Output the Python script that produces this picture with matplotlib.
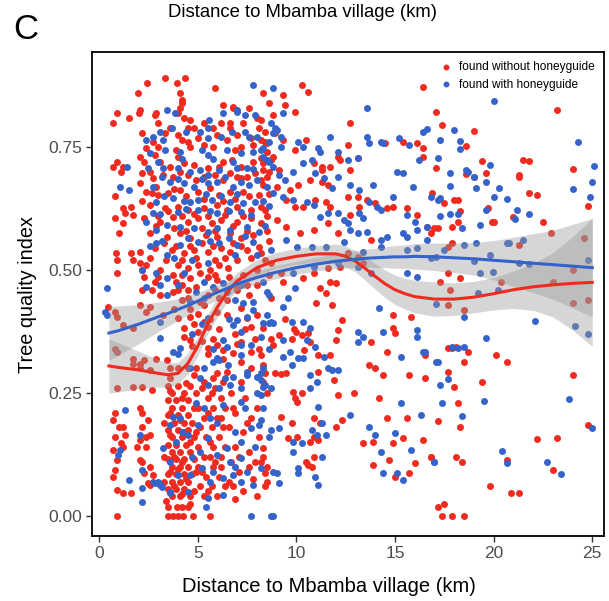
import matplotlib
matplotlib.use("Agg")
import matplotlib.pyplot as plt
import numpy as np

plt.rcParams["font.family"] = ["Liberation Sans", "DejaVu Sans"]

# trees found without honeyguide (distance km, tree quality index)
red_pts = [
    # sparse top-left
    (3.35, .89), (2.44, .88), (1.98, .86), (3.96, .88), (4.37, .89), (4.1, .86), (4.2, .84), (4.1, .83),
    (5.9, .87), (8.3, .86), (0.9, .82), (0.7, .80), (1.5, .81), (2.0, .82), (2.9, .82), (0.9, .72),
    (0.7, .71), (1.2, .71), (1.1, .70), (2.1, .73), (2.3, .72), (0.8, .65), (1.2, .626), (1.6, .628),
    (1.3, .616), (1.7, .612), (0.8, .606), (1.2, .596), (1.0, .575), (0.86, .535), (0.9, .52), (1.6, .535),
    (1.7, .52), (0.9, .494), (2.1, .514), (2.2, .50), (2.1, .677), (2.2, .64), (2.7, .657), (6.8, .831),
    # left, lower half
    (0.46, .425), (0.81, .415), (0.91, .404), (1.2, .388), (1.7, .382), (2.1, .429), (2.6, .425), (0.8, .34),
    (0.9, .333), (1.7, .32), (1.7, .31), (2.1, .31), (2.3, .317), (2.6, .297), (2.9, .32), (3.45, .317),
    (3.6, .30), (4.0, .30), (0.9, .26), (1.7, .262), (2.2, .262), (2.7, .256), (0.8, .209), (0.7, .195),
    (1.0, .181), (0.8, .161), (1.1, .148), (0.7, .134), (0.9, .114), (0.8, .093), (0.7, .079), (0.9, .053),
    (1.2, .047), (1.6, .047), (1.2, .181), (1.3, .165), (1.2, .14), (2.1, .22), (2.2, .21), (2.5, .195),
    (2.2, .18), (2.4, .16), (2.1, .155), (2.4, .14), (1.9, .14), (2.1, .114), (2.6, .1), (2.3, .087),
    (2.5, .067), (0.92, 0), (2.75, .083), (2.6, .063), (2.2, .11), (2.6, .165), (2.1, .30),
    # bottom rows
    (3.5, 0), (3.75, 0), (4.0, 0), (4.25, 0), (4.77, 0), (5.63, 0), (3.5, .018), (3.96, .018),
    (4.2, .018), (4.5, .018), (4.6, .025),
    # dense column 3.3-4.9 km
    (3.5, .265), (4.0, .265), (4.6, .265), (3.7, .25), (4.3, .25), (3.5, .235), (3.9, .235), (4.5, .235),
    (3.7, .22), (4.2, .22), (4.8, .22), (3.5, .205), (4.0, .205), (4.5, .205), (3.8, .19), (4.3, .19),
    (4.7, .19), (3.5, .175), (4.0, .175), (4.5, .175), (3.7, .16), (4.2, .16), (4.8, .16), (3.5, .145),
    (3.9, .145), (4.4, .145), (3.7, .13), (4.1, .13), (4.6, .13), (3.5, .115), (3.9, .115), (4.3, .115),
    (4.8, .115), (3.7, .10), (4.1, .10), (4.5, .10), (3.5, .085), (3.9, .085), (4.3, .085), (4.7, .085),
    (3.7, .07), (4.1, .07), (4.5, .07), (3.5, .055), (3.9, .055), (4.3, .055), (3.7, .04), (4.1, .04),
    (4.6, .04), (3.6, .255), (4.2, .24), (4.4, .27), (3.6, .21), (4.1, .195), (3.6, .165), (4.3, .17),
    (4.6, .15), (3.8, .12), (4.2, .11), (3.6, .09), (4.0, .095), (4.4, .075), (3.8, .06), (4.2, .045),
    (3.4, .03), (4.8, .05), (4.9, .09), (4.9, .17), (4.9, .25), (3.3, .19), (3.3, .12), (3.3, .07),
    (3.6, .28),
    # 4.9-6.5 km, low
    (5.2, .26), (5.9, .26), (5.5, .24), (6.2, .24), (5.0, .22), (5.8, .22), (6.4, .22), (5.3, .20),
    (6.0, .20), (5.1, .18), (5.7, .18), (6.3, .18), (5.4, .16), (6.1, .16), (5.0, .14), (5.8, .14),
    (6.4, .14), (5.3, .12), (5.6, .12), (6.2, .12), (5.0, .10), (5.8, .10), (5.4, .08), (6.1, .08),
    (5.1, .06), (5.7, .06), (6.4, .06), (5.3, .04), (6.0, .04), (5.5, .21), (5.6, .15), (5.9, .11),
    (5.2, .09), (6.2, .10), (5.5, .05), (6.2, .20), (5.7, .25), (6.0, .29), (4.9, .30),
    # 6.5-8.6 km, low
    (6.7, .25), (7.4, .24), (8.0, .22), (6.9, .21), (7.7, .20), (6.6, .18), (7.3, .17), (8.1, .16),
    (6.9, .14), (7.6, .13), (6.7, .11), (7.9, .11), (7.1, .09), (6.6, .07), (7.8, .075), (7.3, .05),
    (6.9, .035), (8.0, .04), (6.8, .22), (7.5, .19), (7.1, .12), (7.6, .10), (8.4, .06), (6.8, .06),
    # steep rise area
    (4.6, .42), (5.0, .41), (5.3, .43), (4.8, .39), (5.6, .40), (6.1, .38), (5.8, .36), (5.2, .355),
    (4.7, .345), (5.5, .33), (6.3, .32), (6.9, .37), (7.4, .38), (7.9, .36), (7.0, .35), (8.1, .34),
    (6.5, .44), (7.0, .46), (7.6, .45), (8.0, .47), (4.2, .44), (3.8, .42), (3.9, .476), (4.2, .47),
    (4.5, .459), (4.3, .364), (4.6, .358), (5.5, .341), (6.0, .348), (6.3, .337), (6.8, .331), (7.2, .354),
    (7.7, .333), (8.2, .327), (7.2, .313), (7.7, .301), (6.5, .293), (5.8, .28), (5.3, .272), (4.8, .287),
    (4.5, .301), (6.3, .272), (7.2, .272),
    # dense top block 2-8.7 km
    (4.2, .845), (2.1, .825), (2.85, .815), (4.0, .82), (4.3, .81), (4.6, .805), (4.8, .79), (4.5, .79),
    (6.2, .80), (6.65, .80), (6.8, .83), (6.3, .835), (6.65, .79), (8.0, .81), (8.1, .79), (2.2, .778),
    (2.75, .76), (3.35, .778), (2.4, .748), (2.85, .734), (4.0, .774), (4.2, .764), (4.5, .76), (4.6, .75),
    (5.0, .768), (6.0, .774), (6.5, .764), (7.0, .774), (7.2, .75), (7.7, .768), (7.8, .754), (3.1, .72),
    (3.6, .709), (4.0, .73), (4.3, .717), (4.8, .713), (5.5, .707), (6.3, .72), (6.75, .724), (7.2, .709),
    (7.8, .72), (8.2, .728), (2.2, .697), (2.75, .687), (3.25, .693), (3.75, .689), (4.5, .693), (4.9, .683),
    (5.9, .693), (6.3, .683), (6.65, .697), (7.2, .687), (7.5, .689), (7.9, .697), (8.3, .703), (2.4, .659),
    (3.0, .652), (3.5, .656), (4.1, .663), (5.0, .659), (5.6, .667), (6.1, .652), (6.65, .659), (7.3, .659),
    (8.1, .652), (8.3, .673), (2.6, .632), (3.35, .626), (4.0, .628), (4.5, .622), (5.3, .626), (6.0, .632),
    (6.5, .622), (7.0, .628), (7.7, .622), (8.2, .628), (3.0, .80), (3.6, .79), (5.3, .80), (5.8, .79),
    (7.3, .80), (7.6, .83), (8.6, .84), (3.0, .75), (3.9, .745), (5.3, .755), (5.8, .75), (6.9, .745),
    (8.4, .76), (2.6, .70), (4.1, .70), (5.3, .69), (6.1, .71), (7.0, .69), (8.6, .70), (2.9, .67),
    (3.8, .665), (4.4, .65), (5.3, .645), (6.3, .64), (6.9, .645), (7.6, .65), (8.6, .655),
    # middle block 2-8.7 km
    (2.3, .606), (3.1, .598), (3.75, .608), (4.5, .598), (5.0, .606), (5.7, .596), (6.2, .602), (7.0, .598),
    (7.7, .606), (8.2, .596), (2.6, .575), (3.45, .567), (4.1, .575), (4.6, .565), (5.4, .571), (6.0, .567),
    (6.65, .575), (7.2, .565), (7.8, .571), (2.1, .537), (2.85, .545), (3.7, .541), (4.3, .535), (4.8, .541),
    (5.5, .537), (6.2, .545), (6.65, .537), (7.5, .541), (8.1, .547), (2.4, .51), (3.1, .50), (4.0, .51),
    (4.5, .504), (5.0, .51), (5.6, .50), (6.1, .51), (6.55, .504), (2.3, .486), (2.85, .476), (3.75, .49),
    (4.6, .484), (5.5, .486), (6.0, .48), (2.2, .459), (3.1, .449), (3.75, .455), (4.5, .443), (5.1, .435),
    (5.5, .449), (6.1, .443), (2.4, .415), (3.25, .408), (4.0, .402), (4.6, .404), (5.3, .394), (6.0, .415),
    (6.5, .408), (7.2, .423), (7.5, .402), (8.0, .408), (8.3, .382), (7.7, .384), (4.3, .382), (5.0, .374),
    (5.5, .384), (3.0, .61), (3.5, .62), (4.2, .61), (4.8, .615), (5.5, .61), (6.4, .612), (7.3, .61),
    (8.5, .61), (2.9, .59), (3.8, .585), (4.4, .58), (5.2, .585), (5.9, .58), (6.8, .59), (7.5, .58),
    (8.5, .58), (3.3, .555), (3.9, .55), (4.6, .55), (5.2, .555), (5.8, .55), (6.8, .555), (7.2, .55),
    (8.6, .56), (2.6, .525), (3.4, .52), (4.2, .52), (4.9, .525), (5.9, .52), (6.4, .525), (7.0, .52),
    (7.7, .525), (8.4, .52), (3.0, .485), (4.2, .49), (5.1, .495), (5.9, .49), (6.6, .485), (7.3, .49),
    (8.0, .50), (8.6, .49), (2.7, .46), (4.0, .46), (4.9, .465), (5.9, .46), (6.9, .47), (7.5, .47),
    # 8.2-17.3 km, upper
    (10.3, .876), (10.6, .862), (9.3, .856), (9.4, .835), (9.95, .821), (8.2, .805), (8.4, .78), (8.8, .815),
    (8.9, .778), (8.2, .764), (8.5, .758), (8.5, .74), (8.7, .724), (8.3, .717), (8.8, .73), (9.1, .703),
    (9.3, .764), (9.95, .744), (10.5, .764), (10.9, .717), (11.3, .709), (11.7, .709), (12.1, .73), (12.2, .724),
    (12.6, .754), (12.7, .799), (13.1, .728), (12.7, .703), (8.2, .683), (8.5, .689), (9.0, .669), (9.7, .663),
    (10.1, .673), (10.7, .683), (11.3, .679), (11.6, .673), (11.3, .703), (9.5, .642), (9.95, .628), (10.35, .628),
    (10.96, .642), (11.5, .638), (11.7, .628), (12.6, .648), (13.1, .648), (13.6, .642), (8.4, .622), (9.0, .602),
    (9.5, .587), (10.2, .575), (10.9, .581), (11.6, .596), (12.1, .575), (12.7, .612), (13.2, .628), (14.0, .636),
    (14.6, .626), (14.9, .628), (15.6, .626), (16.1, .612), (16.6, .587), (17.0, .585), (16.4, .872), (14.5, .758),
    (15.4, .76), (16.1, .758), (16.4, .748), (17.1, .707), (16.4, .73), (8.2, .535), (8.7, .514), (9.2, .494),
    (9.3, .476), (10.35, .484), (10.9, .494), (11.6, .504), (11.7, .476), (12.2, .506), (12.6, .535), (13.1, .526),
    (13.4, .514), (13.8, .561),
    # 8.2-17.3 km, lower
    (8.7, .443), (9.4, .40), (9.9, .38), (10.0, .374), (9.8, .36), (10.3, .368), (10.6, .372), (10.7, .354),
    (10.4, .337), (8.7, .36), (9.1, .368), (8.8, .348), (11.1, .327), (11.7, .327), (11.1, .293), (11.9, .276),
    (8.9, .29), (9.2, .289), (9.5, .29), (8.4, .29), (8.3, .307), (9.85, .252), (9.95, .24), (10.05, .232),
    (10.3, .25), (8.3, .272), (8.5, .25), (9.2, .201), (9.8, .19), (10.9, .20), (11.2, .189), (10.9, .16),
    (10.7, .15), (11.1, .154), (10.05, .16), (9.6, .158), (10.5, .11), (10.6, .104), (10.9, .12), (10.8, .10),
    (8.3, .138), (8.3, .12), (8.2, .11), (8.5, .10), (8.4, .087), (8.5, .07), (12.1, .246), (12.3, .195),
    (12.0, .181), (12.9, .25), (11.0, .433), (11.8, .429), (12.3, .398), (12.1, .378), (12.0, .358), (11.5, .453),
    (12.0, .474), (11.2, .463), (13.8, .354), (14.6, .333), (13.7, .307), (14.0, .30), (14.4, .287), (14.9, .382),
    (15.0, .372), (14.9, .408), (14.2, .24), (13.4, .148), (13.9, .15), (14.7, .114), (13.9, .104), (14.6, .2),
    (14.9, .148), (15.4, .159), (15.6, .20), (15.7, .287), (15.0, .079), (15.7, .087), (16.0, .108), (16.4, .154),
    (16.5, .28), (16.8, .12), (15.8, .404), (16.5, .327),
    # beyond 17 km
    (17.1, .821), (17.4, .795), (19.0, .782), (23.2, .825), (18.6, .752), (19.4, .722), (19.6, .697), (19.0, .689),
    (18.6, .695), (21.5, .724), (21.8, .722), (21.3, .693), (21.3, .689), (24.0, .705), (21.8, .656), (22.2, .652),
    (24.8, .63), (16.9, .656), (18.0, .642), (18.2, .642), (17.5, .636), (18.3, .62), (18.2, .598), (17.9, .587),
    (17.2, .585), (16.8, .575), (19.7, .626), (19.9, .598), (20.0, .598), (21.0, .608), (22.5, .598), (17.9, .555),
    (17.7, .547), (18.3, .484), (17.7, .494), (17.3, .476), (17.8, .459), (17.7, .429), (18.5, .419), (20.35, .476),
    (21.3, .551), (22.9, .575), (23.0, .476), (24.6, .565), (24.0, .50), (24.8, .439), (24.0, .433), (17.7, .341),
    (17.9, .341), (18.1, .343), (18.7, .333), (18.5, .313), (20.1, .327), (20.7, .313), (17.7, .293), (18.0, .262),
    (19.4, .272), (18.2, .23), (18.3, .181), (17.2, .193), (24.0, .287), (24.8, .185), (22.2, .157), (23.2, .159),
    (16.8, .12), (18.1, .12), (18.4, .11), (20.7, .114), (23.0, .093), (19.8, .061), (20.9, .047), (21.3, .047),
    (17.2, .018), (17.5, .024), (17.4, 0), (17.9, 0), (18.5, 0),
]

# trees found with honeyguide
blue_pts = [
    # left, sparse
    (0.3, .415), (0.4, .463), (1.4, .71), (1.07, .669), (1.5, .663), (1.3, .215), (0.4, .409), (3.1, .362),
    (2.1, .165), (1.07, .134), (0.96, .124), (1.5, .073), (2.85, .067), (3.0, .069), (3.2, .059), (2.2, .028),
    (3.6, .047), (5.5, .037), (7.7, 0), (5.43, .018), (8.73, 0),
    # top block 2-8.7 km
    (7.8, .876), (6.3, .819), (7.0, .825), (7.4, .815), (3.45, .825), (3.85, .819), (5.55, .805), (5.5, .79),
    (7.0, .821), (7.9, .815), (2.75, .77), (3.7, .789), (3.25, .764), (2.4, .764), (5.1, .78), (5.5, .768),
    (6.75, .78), (7.4, .78), (7.6, .77), (2.6, .738), (3.35, .744), (4.1, .74), (5.2, .744), (5.5, .734),
    (6.5, .744), (7.2, .738), (7.8, .74), (8.3, .748), (2.5, .707), (3.25, .707), (4.0, .707), (4.6, .70),
    (5.1, .703), (5.5, .693), (6.1, .703), (7.0, .707), (7.5, .707), (2.75, .669), (3.6, .679), (4.3, .677),
    (4.8, .669), (5.5, .677), (6.0, .679), (6.8, .669), (7.6, .673), (8.0, .683), (2.9, .638), (3.75, .646),
    (4.6, .638), (5.0, .642), (5.7, .642), (6.65, .638), (7.3, .636), (7.9, .638), (2.75, .616), (4.0, .618),
    (5.0, .622), (6.0, .616), (7.2, .618), (3.1, .78), (4.4, .78), (6.2, .77), (8.0, .77), (8.6, .76),
    (3.0, .72), (4.2, .725), (5.8, .725), (6.8, .72), (7.8, .705), (8.6, .72), (3.2, .69), (4.0, .685),
    (5.2, .685), (6.4, .69), (7.2, .68), (8.5, .67), (3.3, .65), (4.3, .64), (5.4, .655), (6.2, .65),
    (7.0, .655), (8.3, .64), (3.1, .615), (4.4, .625), (5.6, .62), (6.6, .62), (7.7, .612), (8.6, .63),
    # middle block 2-8.7 km
    (2.4, .598), (2.9, .581), (3.45, .591), (4.1, .587), (4.8, .585), (5.5, .577), (6.0, .585), (6.65, .581),
    (7.5, .587), (8.1, .577), (2.9, .555), (3.45, .53), (4.1, .551), (5.0, .557), (6.1, .555), (7.0, .551),
    (7.8, .557), (2.2, .50), (2.9, .494), (3.45, .484), (4.3, .494), (5.3, .476), (6.3, .474), (2.4, .465),
    (3.45, .449), (4.6, .435), (5.3, .443), (6.5, .455), (7.2, .47), (7.8, .435), (8.3, .476), (3.1, .394),
    (5.5, .402), (6.8, .388), (7.2, .374), (7.0, .398), (7.5, .404), (8.3, .392), (8.5, .409), (7.8, .419),
    (7.3, .433), (3.2, .56), (4.5, .565), (5.6, .56), (6.6, .565), (7.4, .57), (8.4, .59), (2.6, .55),
    (3.8, .525), (4.7, .52), (5.5, .515), (6.9, .53), (8.0, .53), (8.7, .54), (3.1, .47), (4.0, .47),
    (4.9, .455), (5.8, .465), (6.9, .44), (8.6, .45),
    # lower block 2-8.7 km
    (3.75, .333), (4.1, .341), (6.0, .321), (6.1, .317), (7.2, .348), (7.2, .327), (7.7, .348), (8.2, .364),
    (4.6, .301), (5.3, .301), (5.1, .28), (5.5, .266), (6.1, .26), (6.65, .266), (7.2, .26), (8.0, .282),
    (7.5, .293), (8.2, .246), (7.2, .232), (6.3, .226), (5.6, .199), (3.75, .201), (4.1, .199), (3.6, .185),
    (4.5, .165), (4.2, .171), (5.0, .185), (5.5, .159), (6.5, .138), (7.2, .15), (7.7, .179), (8.1, .185),
    (6.0, .124), (6.65, .11), (7.2, .118), (3.25, .138), (3.6, .11), (4.0, .083), (4.6, .083), (5.2, .098),
    (5.6, .069), (6.3, .077), (6.8, .083), (7.2, .069), (7.5, .089), (7.8, .063), (8.2, .098), (2.75, .069),
    (3.1, .063), (4.5, .049), (2.2, .093), (2.2, .057), (6.3, .043), (3.6, .049), (4.0, .33), (5.8, .313),
    (6.55, .307), (6.8, .283), (7.5, .287), (8.2, .29), (8.3, .262), (6.3, .358), (6.5, .343), (4.9, .23),
    (5.3, .22), (6.0, .19), (6.9, .17), (7.9, .14), (5.8, .09), (6.9, .10), (4.7, .12), (3.9, .15),
    (5.1, .13), (7.4, .22), (8.0, .25), (6.4, .28), (5.8, .34), (4.7, .37), (5.2, .39), (6.6, .40),
    (8.6, .34), (8.7, .26), (8.6, .16),
    # 8.2-17.3 km, upper
    (8.8, .87), (13.6, .829), (9.3, .819), (8.7, .80), (8.9, .79), (9.0, .785), (8.8, .778), (9.2, .77),
    (9.2, .75), (10.1, .76), (10.35, .75), (11.1, .748), (11.2, .74), (11.7, .77), (12.1, .74), (12.6, .724),
    (13.1, .728), (13.6, .77), (13.7, .758), (14.3, .76), (14.4, .758), (15.2, .768), (15.7, .754), (16.2, .724),
    (16.4, .78), (16.6, .787), (17.3, .764), (8.2, .744), (8.3, .73), (8.5, .724), (8.8, .709), (9.1, .693),
    (9.4, .683), (9.85, .699), (10.35, .717), (10.8, .724), (10.96, .697), (11.4, .687), (11.8, .667), (12.1, .689),
    (12.7, .673), (13.2, .663), (13.9, .673), (8.8, .656), (9.3, .648), (9.85, .642), (10.56, .638), (10.9, .632),
    (11.2, .608), (11.6, .616), (12.1, .616), (12.4, .602), (12.6, .596), (13.2, .616), (13.4, .606), (13.7, .638),
    (14.1, .628), (14.3, .622), (14.9, .648), (15.1, .699), (15.4, .697), (15.9, .669), (15.6, .612), (16.0, .598),
    (16.6, .587), (16.8, .648), (17.2, .642), (12.7, .581), (13.1, .575), (13.6, .577), (14.3, .561), (14.6, .567),
    (15.4, .575), (15.6, .567), (16.1, .581), (16.6, .561), (9.5, .561), (10.05, .547), (10.8, .547), (11.5, .547),
    (12.4, .557), (13.4, .537), (14.3, .547), (15.6, .541), (16.1, .545), (9.85, .494), (10.9, .506), (12.1, .514),
    (13.1, .506), (13.8, .494), (15.6, .494), (16.1, .486),
    # 8.2-17.3 km, lower
    (8.5, .455), (9.95, .463), (9.3, .425), (9.6, .443), (8.7, .394), (8.6, .392), (8.8, .392), (9.8, .394),
    (10.35, .394), (10.7, .382), (10.55, .358), (9.3, .358), (9.7, .333), (9.3, .323), (10.1, .321), (10.35, .321),
    (10.96, .343), (11.4, .323), (11.6, .30), (12.1, .297), (8.3, .30), (8.2, .276), (8.4, .266), (8.3, .22),
    (8.2, .195), (9.8, .307), (10.7, .287), (11.07, .272), (10.7, .26), (11.1, .221), (11.8, .297), (9.1, .179),
    (8.7, .175), (9.85, .15), (10.3, .148), (9.85, .13), (10.8, .175), (11.3, .189), (11.5, .165), (11.07, .165),
    (11.3, .12), (8.8, .09), (9.0, .087), (9.1, .067), (10.1, .098), (10.1, .087), (10.96, .079), (11.1, .063),
    (8.8, 0), (12.7, .205), (13.1, .374), (13.1, .354), (13.4, .364), (14.2, .423), (14.4, .374), (13.7, .181),
    (14.0, .165), (14.3, .13), (14.4, .087), (15.0, .169), (15.1, .087), (15.4, .073), (15.3, .23), (15.8, .134),
    (16.3, .205), (17.0, .11), (16.1, .378), (16.1, .364), (16.4, .333), (16.5, .333), (17.2, .313), (15.3, .323),
    # beyond 17 km
    (20.0, .843), (18.0, .785), (18.3, .762), (18.3, .746), (17.2, .728), (19.8, .713), (18.6, .703), (18.7, .699),
    (17.8, .697), (17.8, .671), (19.0, .689), (19.1, .667), (19.6, .679), (20.25, .667), (20.0, .648), (20.7, .644),
    (17.3, .646), (17.3, .61), (17.8, .614), (18.2, .614), (18.4, .585), (19.3, .591), (19.6, .622), (21.2, .622),
    (21.1, .604), (21.8, .614), (24.3, .76), (25.1, .711), (25.0, .679), (24.0, .665), (24.9, .648), (18.5, .551),
    (19.1, .555), (19.8, .53), (20.7, .555), (20.8, .555), (21.5, .561), (21.3, .514), (21.8, .512), (19.0, .518),
    (19.3, .494), (19.95, .496), (20.2, .459), (19.2, .453), (17.1, .431), (18.5, .404), (19.6, .362), (22.1, .396),
    (24.1, .386), (24.8, .37), (24.8, .52), (17.5, .541), (17.1, .526), (16.8, .524), (18.5, .343), (18.2, .341),
    (17.9, .343), (17.1, .313), (17.7, .278), (17.3, .266), (17.4, .23), (18.4, .203), (19.5, .234), (23.8, .238),
    (25.0, .179), (20.4, .132), (20.7, .108), (22.7, .11), (23.4, .085), (17.0, .11),
]

# loess fits with confidence bands
fit_x = [0.5, 1, 2, 3, 3.5, 4, 4.5, 5, 5.5, 6, 6.5, 7, 8, 9, 10, 11, 12, 12.5, 13, 13.5,
         14, 14.5, 15, 15.5, 16, 17, 18, 19, 20, 21, 22, 23, 24, 25]
red_fit = [.305, .302, .297, .290, .287, .290, .310, .345, .390, .425, .455, .478, .505, .520, .528, .533,
           .533, .528, .518, .503, .487, .472, .460, .452, .446, .441, .441, .445, .452, .460, .466, .470,
           .473, .475]
red_se = [.055, .05, .038, .028, .025, .022, .021, .02, .02, .02, .019, .018, .016, .016, .016, .017,
          .02, .021, .022, .024, .026, .028, .03, .031, .033, .035, .033, .032, .033, .038, .048, .065,
          .095, .13]
blue_fit = [.372, .377, .390, .405, .412, .420, .428, .437, .446, .455, .463, .472, .485, .496, .505, .512,
            .518, .520, .522, .524, .525, .526, .527, .527, .528, .527, .525, .523, .520, .517, .514, .511,
            .508, .505]
blue_se = [.055, .05, .04, .03, .026, .022, .02, .018, .016, .015, .015, .014, .013, .013, .013, .014,
           .015, .016, .017, .018, .02, .021, .023, .024, .026, .028, .030, .033, .040, .050, .060, .070,
           .085, .10]

RED = "#F02A1E"
BLUE = "#3563C9"

red_x, red_y = np.array(red_pts).T
blue_x, blue_y = np.array(blue_pts).T
fx = np.array(fit_x)

fig = plt.figure(figsize=(6.09, 6.01), dpi=100)
ax = fig.add_axes([0.151, 0.108, 0.841, 0.805])

ax.scatter(red_x, red_y, s=25, color=RED, linewidths=0, zorder=2, label="found without honeyguide")
ax.scatter(blue_x, blue_y, s=25, color=BLUE, linewidths=0, zorder=2, label="found with honeyguide")

for fit, se in [(red_fit, red_se), (blue_fit, blue_se)]:
    fit = np.array(fit)
    se = np.array(se)
    ax.fill_between(fx, fit - se, fit + se, color="#999999", alpha=0.4, linewidth=0, zorder=3)
ax.plot(fx, red_fit, color=RED, lw=2.2, zorder=4)
ax.plot(fx, blue_fit, color=BLUE, lw=2.2, zorder=4)

ax.set_xlim(-0.36, 25.6)
ax.set_ylim(-0.041, 0.943)
ax.set_xticks([0, 5, 10, 15, 20, 25])
ax.set_yticks([0, 0.25, 0.5, 0.75])
ax.set_yticklabels(["0.00", "0.25", "0.50", "0.75"])
ax.tick_params(labelsize=12.5, labelcolor="#4D4D4D", length=4, width=1, color="#333333", pad=3)
for sp in ax.spines.values():
    sp.set_linewidth(1.3)
    sp.set_color("black")

ax.set_xlabel("Distance to Mbamba village (km)", fontsize=14.5)
ax.xaxis.set_label_coords(0.463, -0.085)
ax.set_ylabel("Tree quality index", fontsize=14.3)
ax.yaxis.set_label_coords(-0.108, 0.5)

fig.text(0.496, 0.979, "Distance to Mbamba village (km)", fontsize=13.3, ha="center", va="center")
fig.text(0.021, 0.951, "C", fontsize=25, ha="left", va="center")

ax.legend(loc="upper right", bbox_to_anchor=(1.0, 1.0), frameon=False, fontsize=8.6,
          handletextpad=0.15, labelspacing=0.45, borderaxespad=0.35, markerscale=0.85)

fig.savefig("out.png", dpi=100)
